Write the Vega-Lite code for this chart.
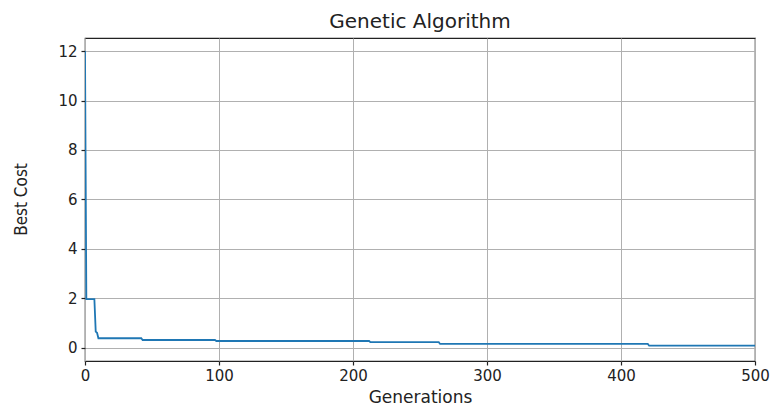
{
  "$schema": "https://vega.github.io/schema/vega-lite/v6.json",
  "width": 670,
  "height": 323,
  "autosize": {"type": "none"},
  "padding": {"left": 85, "top": 38, "right": 17, "bottom": 45},
  "background": "white",
  "title": {
    "text": "Genetic Algorithm",
    "font": "DejaVu Sans",
    "fontSize": 20,
    "fontWeight": "normal",
    "color": "#222222",
    "offset": 6,
    "anchor": "middle"
  },
  "config": {
    "view": {"stroke": "#222222", "strokeWidth": 1.2},
    "axis": {
      "labelFont": "DejaVu Sans",
      "labelFontSize": 15,
      "labelColor": "#222222",
      "titleFontWeight": "normal",
      "titleColor": "#222222",
      "domain": false,
      "tickColor": "#222222",
      "tickSize": 4,
      "tickWidth": 1.2,
      "gridColor": "#b0b0b0",
      "gridWidth": 1,
      "gridOpacity": 1
    }
  },
  "data": {
    "values": [
      {"gen": 0, "cost": 12.0},
      {"gen": 1, "cost": 1.96},
      {"gen": 7, "cost": 1.96},
      {"gen": 8, "cost": 0.65},
      {"gen": 9, "cost": 0.6},
      {"gen": 10, "cost": 0.38},
      {"gen": 42, "cost": 0.38},
      {"gen": 43, "cost": 0.31},
      {"gen": 97, "cost": 0.31},
      {"gen": 98, "cost": 0.27},
      {"gen": 212, "cost": 0.27},
      {"gen": 213, "cost": 0.22},
      {"gen": 264, "cost": 0.22},
      {"gen": 265, "cost": 0.15},
      {"gen": 420, "cost": 0.15},
      {"gen": 421, "cost": 0.08},
      {"gen": 500, "cost": 0.08}
    ]
  },
  "mark": {"type": "line", "color": "#1f77b4", "strokeWidth": 1.8, "clip": true},
  "encoding": {
    "x": {
      "field": "gen",
      "type": "quantitative",
      "scale": {"domain": [0, 500], "nice": false, "zero": false},
      "axis": {
        "values": [0, 100, 200, 300, 400, 500],
        "labelPadding": 3,
        "title": "Generations",
        "titleFont": "DejaVu Sans",
        "titleFontSize": 17,
        "titleX": 335,
        "titleY": 41,
        "titleBaseline": "alphabetic",
        "titleAlign": "center",
        "labelFlush": false
      }
    },
    "y": {
      "field": "cost",
      "type": "quantitative",
      "scale": {"domain": [-0.54, 12.53], "nice": false, "zero": false},
      "axis": {
        "values": [0, 2, 4, 6, 8, 10, 12],
        "labelPadding": 4,
        "title": "Best Cost",
        "titleFont": "Liberation Sans Narrow, DejaVu Sans Condensed, Roboto",
        "titleFontSize": 17,
        "titleAngle": -90,
        "titleX": -64,
        "titleY": 161,
        "titleAlign": "center",
        "titleBaseline": "middle"
      }
    }
  }
}
